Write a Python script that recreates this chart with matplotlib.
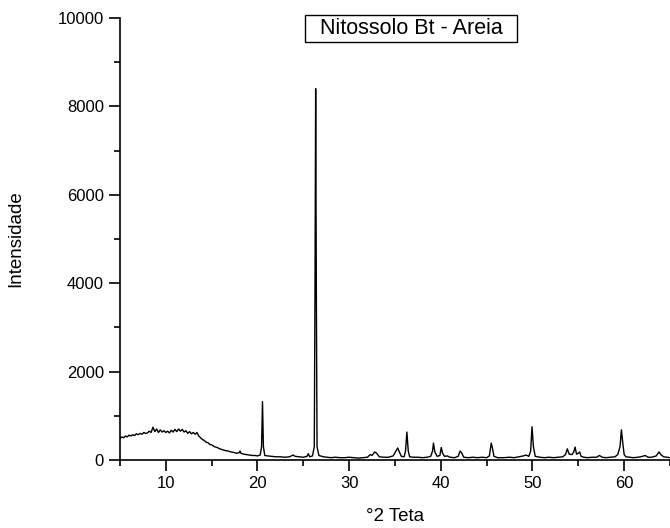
import matplotlib
matplotlib.use("Agg")
import matplotlib.pyplot as plt
from matplotlib.patches import Rectangle
from matplotlib.ticker import MultipleLocator

plt.rcParams['font.family'] = ['Liberation Sans', 'DejaVu Sans']

# 2theta / intensity
two_theta = [5.0, 5.2, 5.4, 5.6, 5.8, 6.0, 6.2, 6.4, 6.6, 6.8, 7.0, 7.2, 7.4, 7.6, 7.8,
             8.0, 8.2, 8.4, 8.6, 8.8, 9.0, 9.2, 9.4, 9.6, 9.8, 10.0, 10.2, 10.4, 10.6,
             10.8, 11.0, 11.2, 11.4, 11.6, 11.8, 12.0, 12.2, 12.4, 12.6, 12.8, 13.0,
             13.2, 13.4, 13.6, 13.8, 14.0, 14.2, 14.4, 14.6, 14.8, 15.0, 15.3, 15.6,
             15.9, 16.2, 16.5, 16.8, 17.1, 17.4, 17.7, 18.0, 18.1, 18.2, 18.5, 18.8,
             19.1, 19.4, 19.7, 20.0, 20.3, 20.45, 20.55, 20.65, 20.8, 21.1, 21.5, 22.0,
             22.5, 23.0, 23.5, 23.9, 24.1, 24.5, 25.0, 25.4, 25.55, 25.7, 26.0, 26.2,
             26.28, 26.35, 26.42, 26.5, 26.7, 27.2, 27.6, 28.0, 28.5, 29.0, 29.5, 30.0,
             30.5, 31.0, 31.5, 32.0, 32.3, 32.5, 32.8, 33.0, 33.3, 33.8, 34.3, 34.8,
             35.1, 35.3, 35.5, 35.7, 36.0, 36.15, 36.3, 36.45, 36.6, 37.0, 37.5, 38.0,
             38.5, 38.9, 39.1, 39.2, 39.35, 39.6, 39.9, 40.05, 40.2, 40.4, 40.7, 41.0,
             41.5, 41.9, 42.1, 42.3, 42.5, 43.0, 43.5, 44.0, 44.5, 45.0, 45.3, 45.5,
             45.65, 45.8, 46.2, 46.8, 47.5, 48.0, 48.5, 49.0, 49.3, 49.6, 49.8, 49.95,
             50.1, 50.3, 50.8, 51.3, 51.8, 52.3, 52.8, 53.3, 53.6, 53.8, 54.0, 54.3,
             54.5, 54.65, 54.8, 55.0, 55.15, 55.3, 55.6, 56.0, 56.5, 57.0, 57.3, 57.6,
             58.0, 58.5, 59.0, 59.3, 59.55, 59.7, 59.85, 60.0, 60.2, 60.6, 61.0, 61.5,
             62.0, 62.3, 62.6, 63.0, 63.5, 63.8, 64.0, 64.3, 64.7, 65.0]
intensity = [480, 520, 500, 540, 520, 560, 540, 570, 550, 590, 570, 600, 580, 620, 600,
             610, 650, 620, 740, 640, 700, 620, 680, 630, 660, 620, 650, 610, 670,
             630, 690, 640, 700, 650, 690, 630, 660, 600, 640, 590, 620,
             580, 620, 540, 500, 460, 440, 400, 390, 350, 340, 300, 280,
             250, 230, 210, 200, 180, 170, 150, 160, 200, 150, 130, 120,
             110, 100, 100, 90, 110, 300, 1320, 300, 100, 90, 80, 70,
             70, 60, 70, 110, 80, 70, 60, 80, 140, 70, 90, 300,
             4000, 8400, 4000, 300, 100, 70, 60, 50, 60, 50, 50, 60,
             50, 40, 50, 60, 120, 100, 180, 150, 70, 60, 60, 90,
             200, 270, 170, 80, 70, 200, 630, 200, 70, 60, 60, 50,
             60, 80, 200, 380, 180, 80, 100, 280, 150, 80, 90, 60,
             50, 80, 200, 150, 60, 50, 60, 50, 60, 50, 90, 380,
             250, 80, 50, 50, 60, 50, 70, 90, 110, 80, 200, 750,
             300, 80, 60, 50, 60, 50, 60, 70, 120, 250, 130, 120,
             180, 290, 130, 150, 180, 80, 60, 50, 60, 60, 100, 60,
             50, 60, 70, 120, 300, 680, 380, 120, 70, 60, 50, 60,
             80, 100, 60, 60, 90, 180, 120, 70, 60, 50]

fig = plt.figure(figsize=(6.7, 5.28), dpi=100)
ax = fig.add_axes([0.179, 0.129, 0.821, 0.837])

ax.plot(two_theta, intensity, color='black', linewidth=1.0)

ax.set_xlim(5, 65)
ax.set_ylim(0, 10000)
ax.xaxis.set_major_locator(MultipleLocator(10))
ax.xaxis.set_minor_locator(MultipleLocator(5))
ax.yaxis.set_major_locator(MultipleLocator(2000))
ax.yaxis.set_minor_locator(MultipleLocator(1000))
ax.tick_params(which='major', direction='out', length=8, width=1.2, labelsize=12)
ax.tick_params(which='minor', direction='out', length=4, width=1.2)
for s in ['top', 'right']:
    ax.spines[s].set_visible(False)
for s in ['left', 'bottom']:
    ax.spines[s].set_linewidth(1.2)

ax.set_xlabel('°2 Teta', fontsize=13.5, labelpad=12)
ax.set_ylabel('Intensidade', fontsize=13.5, labelpad=24)

# title box
ax.add_patch(Rectangle((0.336, 0.946), 0.386, 0.061, transform=ax.transAxes,
                       facecolor='white', edgecolor='black', linewidth=1, clip_on=False))
ax.text(0.529, 0.977, 'Nitossolo Bt - Areia', transform=ax.transAxes,
        ha='center', va='center', fontsize=15.5)

fig.savefig('out.png', dpi=100)
